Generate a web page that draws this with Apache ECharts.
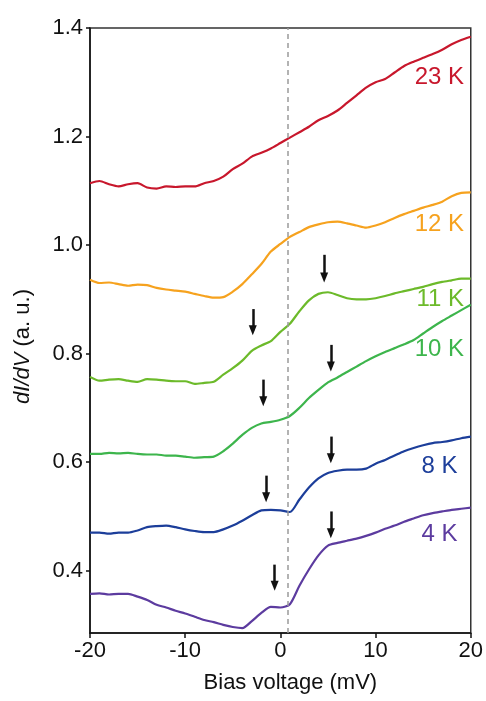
<!DOCTYPE html>
<html>
<head>
<meta charset="utf-8">
<script src="https://cdn.jsdelivr.net/npm/echarts@6/dist/echarts.min.js"></script>
<style>
  html, body { margin: 0; padding: 0; background: #fff; }
  #chart { width: 486px; height: 701px; }
</style>
</head>
<body>
<div id="chart"></div>
<script>
// bias voltage (mV)
const bias = [-20, -19, -18, -17, -16, -15, -14, -13, -12, -11, -10, -9, -8, -7, -6, -5, -4, -3, -2, -1,
  0, 1, 2, 3, 4, 5, 6, 7, 8, 9, 10, 11, 12, 13, 14, 15, 16, 17, 18, 19, 20]

// dI/dV curves, offset per temperature
const k23 = [1.114, 1.118, 1.112, 1.108, 1.112, 1.114, 1.106, 1.104, 1.108, 1.107, 1.108, 1.108, 1.114, 1.118, 1.126, 1.140, 1.150, 1.163, 1.170, 1.178,
  1.188, 1.198, 1.208, 1.218, 1.230, 1.238, 1.248, 1.262, 1.276, 1.290, 1.300, 1.306, 1.318, 1.330, 1.338, 1.345, 1.352, 1.360, 1.370, 1.378, 1.384]
const k12 = [0.936, 0.930, 0.931, 0.928, 0.925, 0.927, 0.926, 0.921, 0.918, 0.916, 0.914, 0.910, 0.906, 0.903, 0.904, 0.914, 0.928, 0.946, 0.965, 0.988,
  1.002, 1.015, 1.024, 1.033, 1.038, 1.042, 1.043, 1.040, 1.036, 1.032, 1.036, 1.042, 1.050, 1.057, 1.063, 1.069, 1.074, 1.080, 1.090, 1.096, 1.097]
const k11 = [0.757, 0.750, 0.752, 0.753, 0.750, 0.748, 0.753, 0.752, 0.750, 0.749, 0.749, 0.744, 0.746, 0.748, 0.761, 0.773, 0.787, 0.805, 0.815, 0.823,
  0.840, 0.855, 0.878, 0.898, 0.910, 0.913, 0.908, 0.902, 0.900, 0.900, 0.902, 0.906, 0.911, 0.915, 0.919, 0.923, 0.928, 0.932, 0.935, 0.938, 0.938]
const k10 = [0.615, 0.615, 0.617, 0.616, 0.617, 0.615, 0.614, 0.614, 0.612, 0.612, 0.610, 0.608, 0.609, 0.610, 0.620, 0.634, 0.650, 0.663, 0.671, 0.674,
  0.678, 0.685, 0.700, 0.718, 0.733, 0.747, 0.756, 0.766, 0.776, 0.786, 0.795, 0.803, 0.810, 0.817, 0.825, 0.837, 0.849, 0.860, 0.870, 0.880, 0.890]
const k8 = [0.470, 0.470, 0.468, 0.470, 0.470, 0.474, 0.480, 0.482, 0.483, 0.480, 0.476, 0.473, 0.471, 0.471, 0.476, 0.483, 0.492, 0.502, 0.511, 0.512,
  0.511, 0.508, 0.531, 0.553, 0.570, 0.580, 0.584, 0.586, 0.586, 0.588, 0.597, 0.604, 0.612, 0.620, 0.626, 0.631, 0.635, 0.637, 0.640, 0.644, 0.647]
const k4 = [0.357, 0.358, 0.356, 0.357, 0.357, 0.352, 0.346, 0.337, 0.332, 0.326, 0.321, 0.315, 0.309, 0.305, 0.300, 0.296, 0.294, 0.307, 0.322, 0.333,
  0.332, 0.338, 0.372, 0.402, 0.428, 0.446, 0.451, 0.455, 0.459, 0.464, 0.470, 0.477, 0.483, 0.490, 0.496, 0.502, 0.506, 0.509, 0.512, 0.514, 0.516]

const names = ['23 K', '12 K', '11 K', '10 K', '8 K', '4 K']
const curves = [k23, k12, k11, k10, k8, k4]
const colors = ['#c8172c', '#f6a21e', '#6cba2a', '#3db54c', '#1c3e9a', '#5c3b9f']
// where each temperature label sits (right edge x, centre y)
const labelX = [19.3, 19.3, 19.3, 19.3, 18.6, 18.6]
const labelY = [1.309, 1.039, 0.900, 0.807, 0.593, 0.466]

// arrows: x position, tail y, tip y
const arrowX = [-2.9, 4.6, -1.8, 5.3, -1.5, 5.3, -0.6, 5.3]
const arrowTail = [0.882, 0.982, 0.752, 0.816, 0.575, 0.647, 0.411, 0.509]
const arrowTip = [0.843, 0.940, 0.712, 0.776, 0.535, 0.607, 0.372, 0.469]

const yTicks = [0.4, 0.6, 0.8, 1.0, 1.2, 1.4]
const fermiLine = 0.8

const font = 'Liberation Sans'

const chart = echarts.init(document.getElementById('chart'))

const series = curves.map((vals, i) => ({
  name: names[i],
  type: 'line',
  data: bias.map((b, j) => [b, vals[j]]),
  showSymbol: false,
  smooth: 0.25,
  lineStyle: { color: colors[i], width: 2.2 },
  itemStyle: { color: colors[i] },
  z: 3,
  markPoint: {
    symbol: 'circle',
    symbolSize: 0,
    silent: true,
    data: [{ coord: [labelX[i], labelY[i]] }],
    label: {
      show: true,
      position: 'left',
      distance: 0,
      formatter: names[i],
      color: colors[i],
      fontFamily: font,
      fontSize: 24
    }
  }
}))

// dashed guide line plus the arrows, drawn on an empty helper series
series.push({
  name: 'marks',
  type: 'line',
  data: [],
  z: 4,
  markLine: {
    silent: true,
    animation: false,
    data: [
      [
        { coord: [fermiLine, 0.285], symbol: 'none', lineStyle: { color: '#9a9a9a', width: 1.5, type: [5, 4] } },
        { coord: [fermiLine, 1.4], symbol: 'none' }
      ],
      ...arrowX.map((x, i) => [
        { coord: [x, arrowTail[i]], symbol: 'none', lineStyle: { color: '#111', width: 2.5, type: 'solid' } },
        { coord: [x, arrowTip[i]], symbol: 'triangle', symbolSize: [8, 10] }
      ])
    ],
    label: { show: false },
    lineStyle: { opacity: 1 }
  }
})

chart.setOption({
  animation: false,
  backgroundColor: '#fff',
  grid: {
    left: 90,
    right: 13,
    top: 28,
    bottom: 68,
    show: true,
    borderColor: '#333',
    borderWidth: 1.5
  },
  xAxis: {
    type: 'value',
    min: -20,
    max: 20,
    interval: 10,
    name: 'Bias voltage (mV)',
    nameLocation: 'middle',
    nameGap: 39,
    nameTextStyle: { color: '#111', fontSize: 22, fontFamily: font, padding: [0, 0, 0, 20] },
    axisLine: { onZero: false, lineStyle: { color: '#111', width: 1.5 } },
    axisTick: { length: 5, lineStyle: { color: '#111', width: 1.5 } },
    axisLabel: { color: '#111', fontSize: 22, fontFamily: font, margin: 7 },
    splitLine: { show: false }
  },
  yAxis: {
    type: 'value',
    min: 0.285,
    max: 1.4,
    name: '{i|dI/dV} (a. u.)',
    nameLocation: 'middle',
    nameGap: 56,
    nameTextStyle: {
      color: '#111',
      fontSize: 22,
      fontFamily: font,
      padding: [0, 32, 0, 0],
      rich: { i: { fontStyle: 'italic', fontSize: 22, fontFamily: font, color: '#111' } }
    },
    axisLine: { onZero: false, lineStyle: { color: '#111', width: 1.5 } },
    axisTick: { length: 4, customValues: yTicks, lineStyle: { color: '#111', width: 1.5 } },
    axisLabel: {
      color: '#111',
      fontSize: 22,
      fontFamily: font,
      margin: 7,
      customValues: yTicks,
      formatter: v => v.toFixed(1)
    },
    splitLine: { show: false }
  },
  series
})
</script>
</body>
</html>
